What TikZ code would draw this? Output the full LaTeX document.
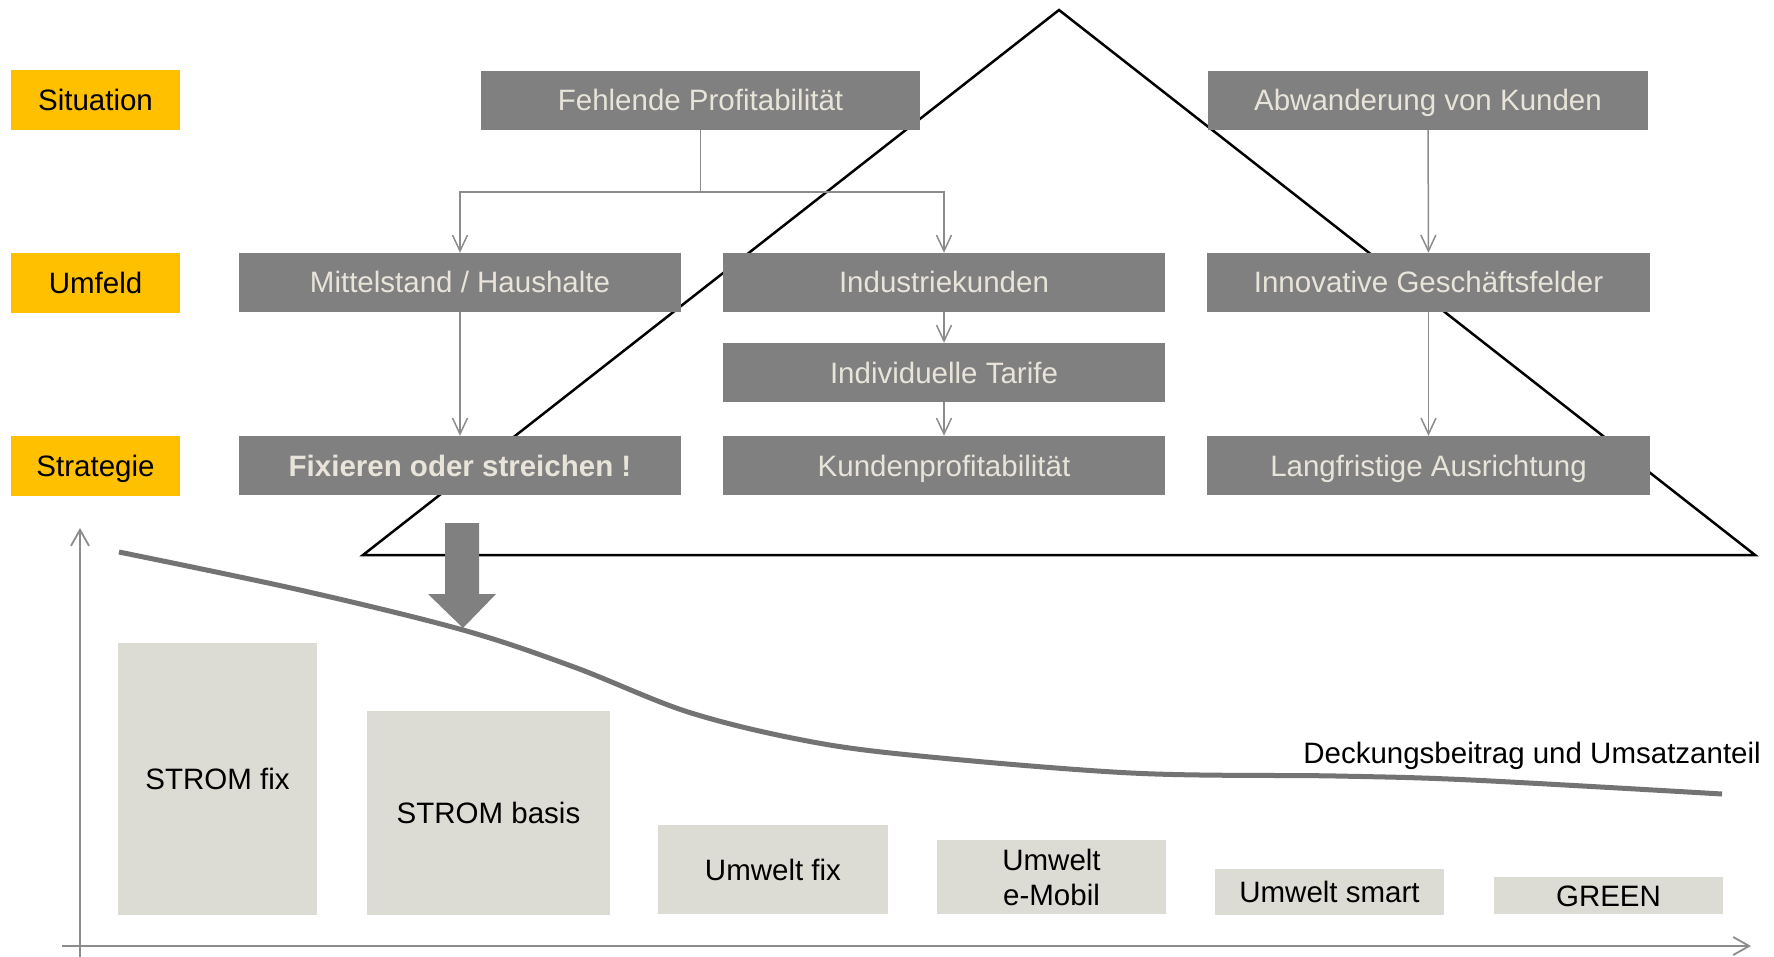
\documentclass[tikz,border=0pt]{standalone}
\usepackage{fontspec}
\setmainfont{Liberation Sans}
\usetikzlibrary{arrows.meta}
\definecolor{boxgray}{HTML}{808080}
\definecolor{boxtxt}{HTML}{E8E4DA}
\definecolor{ylw}{HTML}{FFC000}
\definecolor{barfill}{HTML}{DDDCD4}
\definecolor{curvegray}{HTML}{737373}
\definecolor{linegray}{HTML}{8C8C8C}
\begin{document}
\begin{tikzpicture}[x=1pt,y=-1pt,
  txt/.style={font=\fontsize{29.5}{35}\selectfont},
  oneline/.style={text height=21pt, text depth=0pt},
  lbl/.style={txt, oneline, fill=ylw, minimum width=169pt, minimum height=60pt, inner sep=0pt, text=black},
  gbox/.style={txt, oneline, fill=boxgray, minimum height=59pt, inner sep=0pt, text=boxtxt},
  bar/.style={txt, fill=barfill, inner sep=0pt, text=black, align=center},
  conn/.style={draw=linegray, line width=1.5pt, -{Straight Barb[length=16pt,width=15pt,line width=1.5pt]}},
  axis/.style={draw=linegray, line width=1.8pt, -{Straight Barb[length=16pt,width=18pt,line width=1.8pt]}},
  roof/.style={draw=black, line width=2.5pt, line join=miter},
  curve/.style={draw=curvegray, line width=5pt}]
\useasboundingbox (0,0) rectangle (1774,957);

% roof triangle
\draw[roof] (363,555) -- (1059,10) -- (1755,555) -- cycle;

% row labels
\node[lbl] (sit) at (95.5,100) {Situation};
\node[lbl] (umf) at (95.5,283) {Umfeld};
\node[lbl] (str) at (95.5,465.5) {Strategie};

% grey boxes
\node[gbox, minimum width=439pt] (fehl) at (700.5,100.5) {Fehlende Profitabilität};
\node[gbox, minimum width=440pt] (abw) at (1428,100.5) {Abwanderung von Kunden};
\node[gbox, minimum width=442pt] (mit) at (460,282.5) {Mittelstand / Haushalte};
\node[gbox, minimum width=442pt] (ind) at (944,282.5) {Industriekunden};
\node[gbox, minimum width=443pt] (inn) at (1428.5,282.5) {Innovative Geschäftsfelder};
\node[gbox, minimum width=442pt] (tar) at (944,372.5) {Individuelle Tarife};
\node[gbox, minimum width=442pt, font=\fontsize{29.5}{35}\selectfont\bfseries] (fix) at (460,465.5) {Fixieren oder streichen !};
\node[gbox, minimum width=442pt] (kun) at (944,465.5) {Kundenprofitabilität};
\node[gbox, minimum width=443pt] (lang) at (1428.5,465.5) {Langfristige Ausrichtung};

% connectors
\draw[conn] (fehl.south) -- ++(0,62) -| (mit.north);
\draw[conn] (fehl.south) -- ++(0,62) -| (ind.north);
\draw[conn] (ind) -- (tar);
\draw[conn] (tar) -- (kun);
\draw[conn] (mit) -- (fix);
\draw[conn] (abw) -- (inn);
\draw[conn] (inn) -- (lang);

% big down arrow
\fill[boxgray] (445,523) -- (479,523) -- (479,594) -- (496,594) -- (463,628) -- (428,594) -- (445,594) -- cycle;

% axes
\coordinate (ybot) at (80,957);
\coordinate (ytop) at (80,528);
\coordinate (xl) at (62,946);
\coordinate (xr) at (1751,946);
\draw[axis] (ybot) -- (ytop);
\draw[axis] (xl) -- (xr);

% bars
\node[bar, oneline, minimum width=199pt, minimum height=272pt] (b1) at (217.5,779) {STROM fix};
\node[bar, oneline, minimum width=243pt, minimum height=204pt] (b2) at (488.5,813) {STROM basis};
\node[bar, oneline, minimum width=230pt, minimum height=89pt] (b3) at (773,869.5) {Umwelt fix};
\node[bar, minimum width=229pt, minimum height=74pt] (b4) at (1051.5,877) {Umwelt\\e-Mobil};
\node[bar, oneline, minimum width=229pt, minimum height=46pt] (b5) at (1329.5,892) {Umwelt smart};
\node[bar, oneline, minimum width=229pt, minimum height=37pt] (b6) at (1608.5,895.5) {GREEN};

% curve
\draw[curve, line cap=butt] plot[smooth, tension=0.55] coordinates {(119,552) (300,590) (463,630) (574,667) (685,711) (792,738) (900,754) (1131,773) (1336,776) (1471,780) (1722,794)};
\node[txt, anchor=base east, inner sep=0pt] (deck) at (1761,763) {Deckungsbeitrag und Umsatzanteil};
\end{tikzpicture}
\end{document}
